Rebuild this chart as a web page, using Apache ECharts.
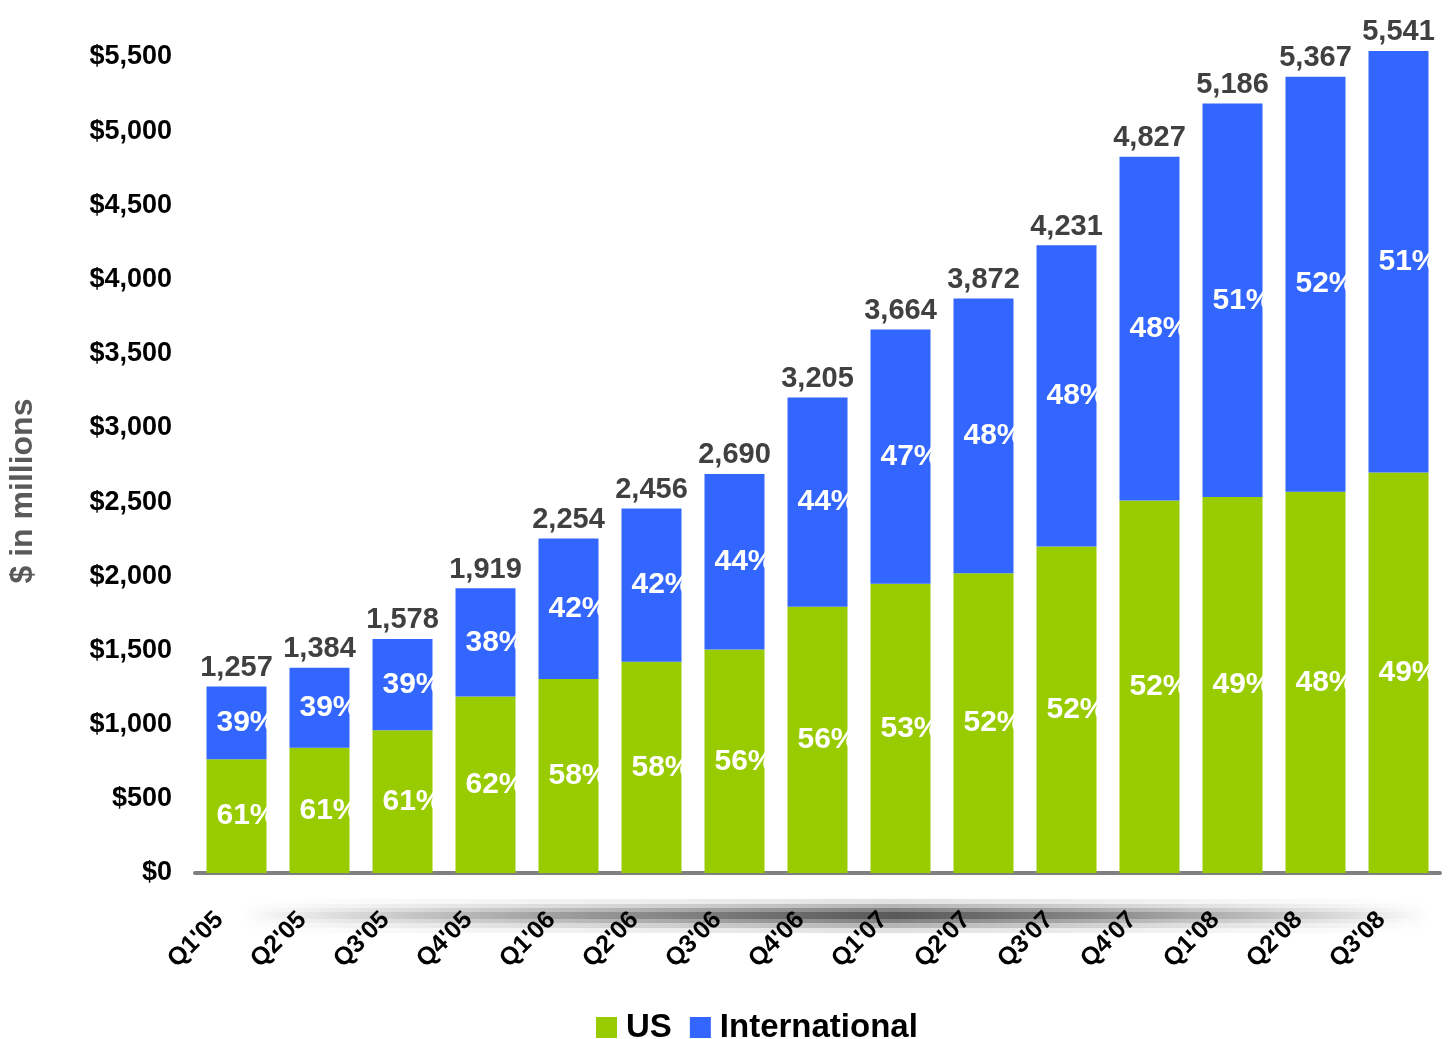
<!DOCTYPE html>
<html>
<head>
<meta charset="utf-8">
<script src="https://cdn.jsdelivr.net/npm/echarts@6/dist/echarts.min.js"></script>
<style>
   html, body { margin: 0; padding: 0; background: #fff; }
   #chart { width: 1448px; height: 1039px; }
</style>
</head>
<body>
<div id="chart"></div>
<script>
// 数据
const categories = ["Q1'05", "Q2'05", "Q3'05", "Q4'05", "Q1'06", "Q2'06", "Q3'06", "Q4'06", "Q1'07", "Q2'07", "Q3'07", "Q4'07", "Q1'08", "Q2'08", "Q3'08"];
const totals = [1257, 1384, 1578, 1919, 2254, 2456, 2690, 3205, 3664, 3872, 4231, 4827, 5186, 5367, 5541];
const usValues = [767, 844, 963, 1190, 1307, 1424, 1506, 1795, 1950, 2020, 2200, 2510, 2535, 2570, 2700];
const intlValues = [490, 540, 615, 729, 947, 1032, 1184, 1410, 1714, 1852, 2031, 2317, 2651, 2797, 2841];
const usPct = [61, 61, 61, 62, 58, 58, 56, 56, 53, 52, 52, 52, 49, 48, 49];
const intlPct = [39, 39, 39, 38, 42, 42, 44, 44, 47, 48, 48, 48, 51, 52, 51];
const yTicks = { min: 0, max: 5500, interval: 500 };

const font = "'Liberation Sans', Arial, sans-serif";
const usColor = "#99CC00";
const intlColor = "#3366FF";

const myChart = echarts.init(document.getElementById("chart"));

// 轴下方阴影
function shadowBand(y, h, alpha) {
   return {
      type: "rect",
      z: -10,
      silent: true,
      shape: { x: 240, y: y, width: 1190, height: h },
      style: {
         fill: new echarts.graphic.LinearGradient(0, 0, 1, 0, [
            { offset: 0, color: "rgba(40,40,40,0)" },
            { offset: 0.35, color: "rgba(40,40,40," + alpha * 0.6 + ")" },
            { offset: 0.55, color: "rgba(40,40,40," + alpha + ")" },
            { offset: 0.8, color: "rgba(40,40,40," + alpha * 0.4 + ")" },
            { offset: 1, color: "rgba(40,40,40,0)" },
         ]),
      },
   };
}

const pctLabel = {
   show: true,
   position: "inside",
   offset: [10, 0],
   color: "#fff",
   fontSize: 30,
   fontWeight: "bold",
   fontFamily: font,
};

const option = {
   backgroundColor: "#fff",
   animation: false,
   textStyle: { fontFamily: font },
   graphic: [
      shadowBand(899, 34, 0.14),
      shadowBand(904, 24, 0.24),
      shadowBand(908, 15, 0.36),
      shadowBand(912, 7, 0.45),
   ],
   legend: {
      top: 1006,
      left: 591,
      icon: "rect",
      itemWidth: 21,
      itemHeight: 21,
      itemGap: 18,
      textStyle: { color: "#000", fontSize: 33, fontWeight: "bold", fontFamily: font, padding: [0, 0, 0, 4] },
      data: ["US", "International"],
   },
   grid: { left: 195, right: 8, top: 57, bottom: 166, outerBoundsMode: "none", containLabel: false },
   xAxis: {
      type: "category",
      data: categories,
      axisTick: { show: false },
      axisLine: { show: true, lineStyle: { color: "#808080", width: 4 } },
      axisLabel: {
         rotate: 45,
         margin: 26,
         padding: [0, 24, 0, 0],
         color: "#000",
         fontSize: 25,
         fontWeight: "bold",
         fontFamily: font,
      },
   },
   yAxis: {
      type: "value",
      min: yTicks.min,
      max: yTicks.max,
      interval: yTicks.interval,
      name: "$ in millions",
      nameLocation: "middle",
      nameGap: 156,
      nameTextStyle: { color: "#595959", fontSize: 32, fontWeight: "bold", fontFamily: font, padding: [0, 52, 0, 0] },
      axisLine: { show: false },
      axisTick: { show: false },
      splitLine: { show: false },
      axisLabel: {
         margin: 23,
         color: "#000",
         fontSize: 27,
         fontWeight: "bold",
         fontFamily: font,
         formatter: (v) => "$" + v.toLocaleString("en-US"),
      },
   },
   series: [
      {
         name: "US",
         type: "bar",
         stack: "total",
         barWidth: 60,
         clip: false,
         itemStyle: { color: usColor },
         label: Object.assign({}, pctLabel, { formatter: (p) => usPct[p.dataIndex] + "%" }),
         data: usValues,
      },
      {
         name: "International",
         type: "bar",
         stack: "total",
         barWidth: 60,
         clip: false,
         itemStyle: { color: intlColor },
         label: Object.assign({}, pctLabel, { formatter: (p) => intlPct[p.dataIndex] + "%" }),
         data: intlValues,
      },
      {
         // 总数标签
         name: "total",
         type: "bar",
         stack: "total",
         barWidth: 60,
         clip: false,
         silent: true,
         itemStyle: { color: "transparent" },
         label: {
            show: true,
            position: "insideBottom",
            distance: 4,
            color: "#404040",
            fontSize: 29,
            fontWeight: "bold",
            fontFamily: font,
            formatter: (p) => totals[p.dataIndex].toLocaleString("en-US"),
         },
         data: categories.map(() => 0),
      },
   ],
};

myChart.setOption(option);
</script>
</body>
</html>
